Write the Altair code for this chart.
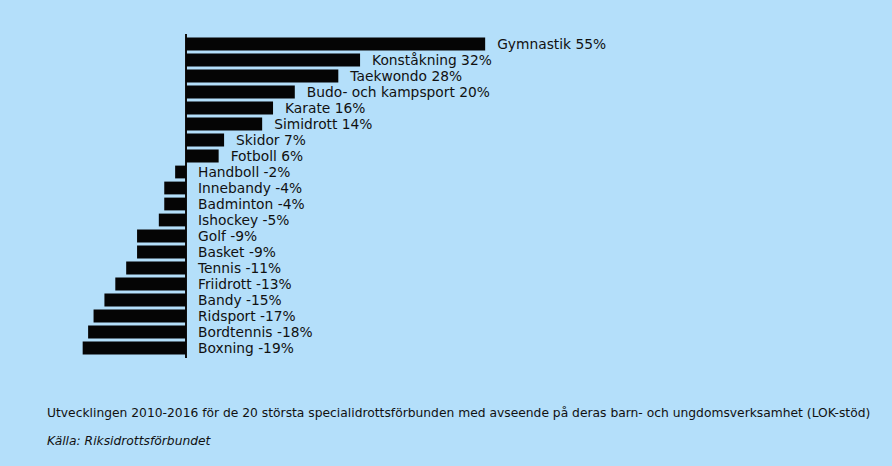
import altair as alt
import pandas as pd

sports = ["Gymnastik", "Konståkning", "Taekwondo", "Budo- och kampsport", "Karate",
          "Simidrott", "Skidor", "Fotboll", "Handboll", "Innebandy", "Badminton",
          "Ishockey", "Golf", "Basket", "Tennis", "Friidrott", "Bandy", "Ridsport",
          "Bordtennis", "Boxning"]
changes = [55, 32, 28, 20, 16, 14, 7, 6, -2, -4, -4, -5, -9, -9, -11, -13, -15, -17, -18, -19]

caption = "Utvecklingen 2010-2016 för de 20 största specialidrottsförbunden med avseende på deras barn- och ungdomsverksamhet (LOK-stöd)"
source = "Källa: Riksidrottsförbundet"

df = pd.DataFrame({"sport": sports, "change": changes})
df["label"] = df["sport"] + " " + df["change"].astype(str) + "%"
df["labelpos"] = df["change"].clip(lower=0)
df["zero"] = 0

FONT = "DejaVu Sans"
BG = "#b4dffa"

xscale = alt.Scale(domain=[-34.2, 129.8], nice=False, zero=False)
yscale = alt.Scale(domain=sports, paddingInner=0.2, paddingOuter=0.1)

base = alt.Chart(df)

bars = base.mark_bar(color="#050505").encode(
    x=alt.X("change:Q", scale=xscale, axis=None),
    x2="zero:Q",
    y=alt.Y("sport:N", scale=yscale, axis=None, sort=sports),
)

labels = base.mark_text(align="left", baseline="middle", dx=12, dy=0.5, font=FONT,
                        fontSize=13.8, color="#111111").encode(
    x=alt.X("labelpos:Q", scale=xscale, axis=None),
    y=alt.Y("sport:N", scale=yscale, axis=None, sort=sports),
    text="label:N",
)

zero = base.mark_rule(color="#111111", strokeWidth=1).encode(
    x=alt.X("zero:Q", scale=xscale, axis=None),
    y=alt.value(-2),
    y2=alt.value(322),
)

cap = alt.Chart(pd.DataFrame({"t": [caption]})).mark_text(
    align="left", baseline="middle", font=FONT, fontSize=12.3, color="#111111"
).encode(x=alt.value(47), y=alt.value(413 - 36), text="t:N")

src = alt.Chart(pd.DataFrame({"t": [source]})).mark_text(
    align="left", baseline="middle", font=FONT, fontSize=12.3, fontStyle="italic", color="#111111"
).encode(x=alt.value(47), y=alt.value(441 - 36), text="t:N")

chart = alt.layer(zero, bars, labels, cap, src).properties(
    width=892, height=320,
    autosize=alt.AutoSizeParams(type="none"),
    padding={"left": 0, "top": 36, "right": 0, "bottom": 110},
    background=BG,
).configure_view(stroke=None)

chart.save("out.html", embed_options={"renderer": "svg", "actions": False})
